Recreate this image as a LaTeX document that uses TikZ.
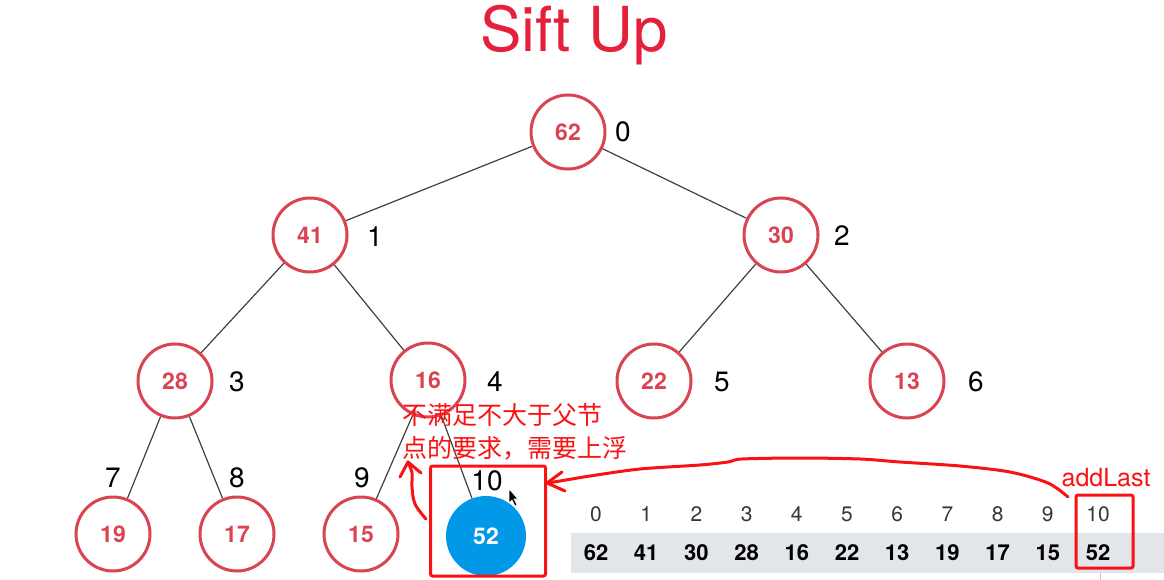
\documentclass[tikz,border=0pt]{standalone}
\usepackage{fontspec}
\setmainfont{TeX Gyre Heros}
\newfontfamily\cjk{Noto Sans CJK SC}
\definecolor{nodered}{RGB}{218,68,82}
\definecolor{titlered}{RGB}{228,32,60}
\definecolor{nodeblue}{RGB}{2,152,232}
\definecolor{bandgray}{RGB}{226,229,233}
\definecolor{idxgray}{RGB}{55,55,55}
\definecolor{markred}{RGB}{250,18,18}
\begin{document}
\begin{tikzpicture}[x=1pt,y=-1pt,
  heap/.style={circle,draw=nodered,line width=3pt,minimum size=74pt,inner sep=0pt,
    text=nodered,fill=white,font=\fontsize{23}{26}\selectfont\bfseries},
  newnode/.style={circle,fill=nodeblue,minimum size=80pt,inner sep=0pt,
    text=white,font=\fontsize{23}{26}\selectfont\bfseries},
  posnum/.style={font=\fontsize{28}{30}\selectfont,text=black,inner sep=0pt},
  treeedge/.style={draw=black!75,line width=1.2pt},
  arridx/.style={font=\fontsize{21}{24}\selectfont,text=idxgray,inner sep=0pt},
  arrval/.style={font=\fontsize{22}{24}\selectfont\bfseries,text=black,inner sep=0pt},
  markbox/.style={draw=markred,line width=3pt,rounded corners=2pt},
  markline/.style={draw=markred,line width=3pt,line cap=round,line join=round},
  marktext/.style={text=markred,inner sep=0pt,anchor=west}]
\useasboundingbox (0,0) rectangle (1164,580);

% title
\node[text=titlered,font=\fontsize{62}{64}\selectfont] (title) at (574,35) {Sift Up};

% tree nodes
\node[heap] (n0) at (568,132) {62};
\node[heap] (n1) at (310,235) {41};
\node[heap] (n2) at (781,235) {30};
\node[heap] (n3) at (175,381) {28};
\node[heap] (n4) at (428,380) {16};
\node[heap] (n5) at (654,381) {22};
\node[heap] (n6) at (907,381) {13};
\node[heap] (n7) at (113,534) {19};
\node[heap] (n8) at (237,534) {17};
\node[heap] (n9) at (361,534) {15};
\node[newnode] (n10) at (486,536) {52};

% edges
\draw[treeedge] (n0) -- (n1);
\draw[treeedge] (n0) -- (n2);
\draw[treeedge] (n1) -- (n3);
\draw[treeedge] (n1) -- (n4);
\draw[treeedge] (n2) -- (n5);
\draw[treeedge] (n2) -- (n6);
\draw[treeedge] (n3) -- (n7);
\draw[treeedge] (n3) -- (n8);
\draw[treeedge] (n4) -- (n9);
\draw[treeedge] (n4) -- (n10);

% position labels
\node[posnum] (p0) at (623,132) {0};
\node[posnum] (p1) at (375,237) {1};
\node[posnum] (p2) at (842,236) {2};
\node[posnum] (p3) at (237,382) {3};
\node[posnum] (p4) at (495,382) {4};
\node[posnum] (p5) at (722,382) {5};
\node[posnum] (p6) at (976,382) {6};
\node[posnum] (p7) at (113,478) {7};
\node[posnum] (p8) at (237,478) {8};
\node[posnum] (p9) at (362,478) {9};
\node[posnum] (p10) at (487,481) {10};

% array
\fill[bandgray] (571,533) rectangle (1164,573);
\foreach \v [count=\i from 0] in {62,41,30,28,16,22,13,19,17,15,52} {
  \node[arridx] (ai\i) at ({596+50.2*\i},514) {\i};
  \node[arrval] (av\i) at ({596+50.2*\i},553) {\v};
}

% red marks
\node[markbox,minimum width=115pt,minimum height=110pt,inner sep=0pt] (boxtree) at (488,521) {};
\node[markbox,minimum width=57pt,minimum height=73pt,inner sep=0pt] (boxarr) at (1104.5,531.5) {};
\node[text=markred,font=\fontsize{25}{28}\selectfont,inner sep=0pt] (addlast) at (1106,478) {addLast};
\node[marktext,font=\cjk\fontsize{25}{28}\selectfont] (note1) at (402,415) {不满足不大于父节};
\node[marktext,font=\cjk\fontsize{25}{28}\selectfont] (note2) at (402,448) {点的要求，需要上浮};

\coordinate (tipA) at (547,483);
\coordinate (startA) at (1068,497);
\draw[markline] plot[smooth,tension=0.5] coordinates {(startA) (1048,483) (1010,472) (960,466) (900,462) (860,459) (800,458) (742,459) (728,462) (700,465) (640,469) (590,476) (560,481) (tipA)};
\draw[markline] (562,472) -- (tipA) -- (565,491);

\coordinate (tipB) at (408,462);
\draw[markline] plot[smooth,tension=0.6] coordinates {(426,519) (415,504) (412,487) (412,473) (tipB)};
\draw[markline] (400,477) -- (tipB) -- (421,473);

% mouse cursor
\filldraw[fill=black,draw=white,line width=0.6pt] (509,489) -- (509,503) -- (512,500) -- (515,506) -- (517,505) -- (514,499) -- (518,499) -- cycle;
% faint pointer at the bottom
\draw[draw=nodered!40,line width=1pt] (1100,580) -- (1100,573);
\end{tikzpicture}
\end{document}
